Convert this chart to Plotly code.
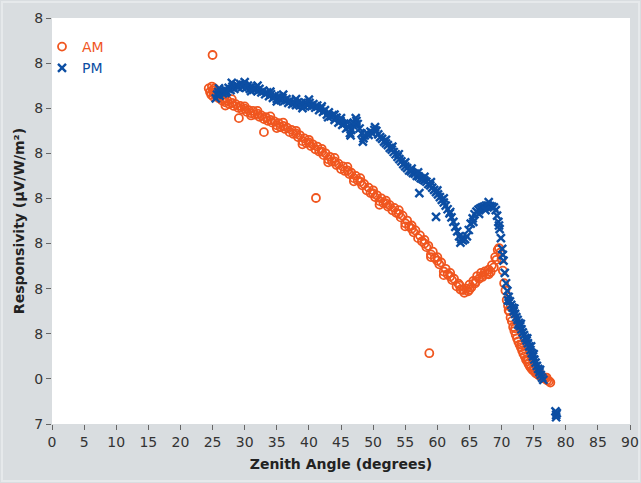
import plotly.graph_objects as go

# Y axis tick positions (bottom -> top) and their labels as printed
y_tickvals = [0, 1, 2, 3, 4, 5, 6, 7, 8, 9]
y_ticktext = ["7", "0", "8", "8", "8", "8", "8", "8", "8", "8"]
x_tickvals = list(range(0, 95, 5))

# AM measurements (zenith angle, responsivity in axis units)
am_points = [
    (24.4,7.44),(24.6,7.36),(24.8,7.30),(24.9,7.48),(25.0,7.40),(25.1,7.26),(25.2,7.34),(25.3,7.44),
    (25.4,7.30),(25.6,7.37),(25.8,7.28),(26.0,7.22),(26.2,7.28),(26.5,7.17),(26.8,7.20),(27.0,7.13),
    (27.3,7.17),(27.6,7.09),(28.0,7.12),(28.3,7.05),(28.6,7.09),(29.0,7.01),(29.3,7.05),(29.6,6.97),
    (30.0,6.99),(30.3,6.92),(30.6,6.96),(31.0,6.89),(31.3,6.94),(31.6,6.86),(32.0,6.88),(32.3,6.81),
    (32.6,6.84),(33.0,6.76),(33.3,6.80),(33.6,6.72),(34.0,6.74),(34.3,6.68),(34.6,6.71),(35.0,6.62),
    (35.3,6.67),(35.6,6.58),(36.0,6.61),(36.3,6.54),(36.6,6.57),(37.0,6.47),(37.3,6.52),(37.6,6.43),
    (38.0,6.44),(38.3,6.36),(38.6,6.40),(39.0,6.27),(39.3,6.33),(39.6,6.23),(40.0,6.24),(40.3,6.16),
    (40.6,6.20),(41.0,6.09),(41.3,6.15),(41.6,6.04),(42.0,6.04),(42.3,5.96),(42.6,6.00),(43.0,5.87),
    (43.3,5.92),(43.6,5.82),(44.0,5.82),(44.3,5.74),(44.6,5.77),(45.0,5.65),(45.3,5.71),(45.6,5.61),
    (46.0,5.62),(46.3,5.54),(46.6,5.57),(47.0,5.45),(47.3,5.50),(47.6,5.40),(48.0,5.37),(48.3,5.29),
    (48.6,5.32),(49.0,5.18),(49.3,5.24),(49.6,5.12),(50.0,5.11),(50.3,5.03),(50.6,5.07),(51.0,4.94),
    (51.3,5.00),(51.6,4.90),(52.0,4.89),(52.3,4.82),(52.6,4.85),(53.0,4.74),(53.3,4.79),(53.6,4.68),
    (54.0,4.66),(54.3,4.58),(54.6,4.62),(55.0,4.45),(55.3,4.51),(55.6,4.38),(56.0,4.33),(56.3,4.25),
    (56.6,4.29),(57.0,4.12),(57.3,4.18),(57.6,4.05),(58.0,4.00),(58.3,3.92),(58.6,3.95),(59.0,3.76),
    (59.3,3.82),(59.6,3.68),(60.0,3.62),(60.3,3.54),(60.6,3.58),(61.0,3.38),(61.3,3.44),(61.6,3.32),
    (62.0,3.27),(62.3,3.19),(62.6,3.22),(63.0,3.05),(63.3,3.11),(63.6,2.98),(64.0,2.97),(64.2,2.91),
    (64.5,3.00),(64.8,2.94),(65.0,3.09),(65.3,3.03),(65.6,3.17),(65.9,3.12),(66.2,3.28),(66.5,3.22),
    (66.8,3.35),(67.1,3.30),(67.4,3.38),(67.7,3.33),(68.0,3.42),(68.3,3.37),(68.5,3.52),(68.8,3.47),
    (69.0,3.70),(69.2,3.64),(69.4,3.86),(69.6,3.90),(69.8,3.80),(70.0,3.66),(70.2,3.40),(70.4,3.12),
    (70.6,2.96),(70.8,2.75),(71.0,2.62),(71.2,2.50),(71.4,2.36),(71.6,2.28),(71.8,2.15),(72.0,2.06),
    (72.2,1.98),(72.4,1.90),(72.6,1.83),(72.8,1.76),(73.0,1.70),(73.2,1.63),(73.4,1.56),(73.6,1.50),
    (73.8,1.43),(74.0,1.39),(74.2,1.33),(74.4,1.28),(74.6,1.24),(74.8,1.20),(75.0,1.18),(75.3,1.13),
    (75.6,1.10),(75.9,1.07),(76.2,1.05),(76.5,1.02),(76.8,1.00),(77.1,0.97),(77.4,0.95),(77.6,0.92),
    (71.1,2.52),(72.1,2.12),(73.1,1.76),(74.1,1.44),(75.1,1.24),(76.1,1.10),(77.0,1.03),
    (26.0,7.34),(28.0,7.20),(30.0,7.04),(32.0,6.94),(34.0,6.82),(36.0,6.68),(38.0,6.50),(40.0,6.30),
    (42.0,6.10),(44.0,5.90),(46.0,5.70),(48.0,5.45),(50.0,5.18),(52.0,4.95),(54.0,4.74),(56.0,4.40),
    (58.0,4.08),(60.0,3.70),(62.0,3.35),(63.5,3.07),(65.0,2.98),(67.0,3.26),(68.0,3.32),(27.0,7.06),
    (31.0,6.84),(35.0,6.56),(39.0,6.20),(43.0,5.80),(47.0,5.38),(51.0,4.86),(55.0,4.38),(59.0,3.70),
    (61.0,3.30),(66.0,3.16),
    (25.0,8.18),(29.1,6.78),(33.0,6.47),(41.1,5.01),(58.75,1.57),
]

# PM measurements (zenith angle, responsivity in axis units)
pm_points = [
    (25.5,7.22),(25.7,7.30),(25.9,7.36),(26.1,7.28),(26.3,7.38),(26.6,7.33),(26.9,7.42),(27.2,7.37),
    (27.5,7.45),(27.8,7.40),(28.1,7.48),(28.4,7.43),(28.7,7.52),(29.0,7.46),(29.3,7.54),(29.6,7.47),
    (29.9,7.51),(30.2,7.45),(30.5,7.50),(30.8,7.43),(31.1,7.48),(31.4,7.41),(31.7,7.45),(32.0,7.38),
    (32.3,7.43),(32.6,7.35),(32.9,7.39),(33.2,7.31),(33.5,7.35),(33.8,7.27),(34.1,7.31),(34.4,7.23),
    (34.7,7.28),(35.0,7.21),(35.3,7.26),(35.6,7.18),(35.9,7.23),(36.2,7.16),(36.5,7.20),(36.8,7.12),
    (37.1,7.17),(37.4,7.09),(37.7,7.14),(38.0,7.07),(38.3,7.13),(38.6,7.06),(38.9,7.12),(39.2,7.05),
    (39.5,7.12),(39.8,7.06),(40.1,7.12),(40.4,7.04),(40.7,7.09),(41.0,7.01),(41.3,7.06),(41.6,6.96),
    (41.9,7.00),(42.2,6.92),(42.5,6.96),(42.8,6.86),(43.1,6.91),(43.4,6.82),(43.7,6.85),(44.0,6.74),
    (44.3,6.79),(44.6,6.68),(44.9,6.72),(45.2,6.63),(45.5,6.66),(45.8,6.55),(46.1,6.58),(46.4,6.45),
    (46.6,6.52),(46.9,6.62),(47.1,6.66),(47.4,6.72),(47.6,6.65),(47.9,6.55),(48.2,6.44),(48.5,6.33),
    (48.7,6.40),(49.0,6.45),(49.3,6.41),(49.6,6.48),(49.9,6.44),(50.2,6.52),(50.5,6.50),(50.8,6.42),
    (51.1,6.36),(51.4,6.32),(51.7,6.26),(52.0,6.22),(52.3,6.18),(52.6,6.12),(52.9,6.08),(53.2,6.03),
    (53.5,5.98),(53.8,5.92),(54.1,5.87),(54.4,5.82),(54.7,5.76),(55.0,5.71),(55.3,5.67),(55.6,5.62),
    (55.9,5.60),(56.2,5.56),(56.5,5.55),(56.8,5.50),(57.1,5.49),(57.4,5.45),(57.7,5.43),(58.0,5.40),
    (58.3,5.37),(58.6,5.32),(58.9,5.29),(59.2,5.24),(59.5,5.19),(59.8,5.14),(60.1,5.09),(60.4,5.03),
    (60.7,4.97),(61.0,4.91),(61.3,4.84),(61.6,4.76),(61.9,4.67),(62.2,4.58),(62.5,4.48),(62.8,4.37),
    (63.1,4.27),(63.4,4.16),(63.7,4.10),(64.0,4.07),(64.3,4.10),(64.6,4.16),(64.9,4.30),(65.2,4.44),
    (65.5,4.56),(65.8,4.65),(66.1,4.71),(66.4,4.75),(66.7,4.78),(67.0,4.80),(67.3,4.82),(67.6,4.84),
    (67.9,4.84),(68.2,4.83),(68.5,4.82),(68.8,4.80),(69.1,4.74),(69.3,4.62),(69.5,4.48),(69.7,4.32),
    (69.9,4.12),(70.1,3.88),(70.3,3.62),(70.5,3.35),(70.7,3.12),(70.9,2.95),(71.1,2.82),(71.3,2.72),
    (71.5,2.64),(71.7,2.58),(71.9,2.50),(72.1,2.44),(72.3,2.37),(72.5,2.31),(72.7,2.24),(72.9,2.17),
    (73.1,2.10),(73.3,2.03),(73.5,1.97),(73.7,1.91),(73.9,1.85),(74.1,1.79),(74.3,1.72),(74.5,1.64),
    (74.7,1.57),(74.9,1.50),(75.1,1.43),(75.3,1.36),(75.5,1.29),(75.7,1.22),(75.9,1.15),(76.1,1.09),
    (76.3,1.03),(76.5,0.98),
    (26.0,7.44),(28.0,7.56),(30.0,7.58),(32.0,7.50),(34.0,7.37),(36.0,7.30),(38.0,7.20),(40.0,7.19),
    (42.0,7.04),(44.0,6.86),(46.0,6.68),(47.3,6.78),(48.4,6.26),(50.3,6.58),(52.0,6.30),(54.0,5.98),
    (56.0,5.66),(58.0,5.48),(60.0,5.18),(62.0,4.70),(63.6,4.02),(65.6,4.48),(68.0,4.92),(69.6,4.40),
    (71.0,2.74),(72.0,2.56),(73.0,2.22),(74.0,1.90),(75.0,1.55),(76.0,1.20),(46.5,6.40),(55.0,5.80),
    (61.0,5.00),(27.0,7.34),(31.0,7.38),(35.0,7.15),(39.0,7.00),(43.0,6.80),(45.0,6.78),(53.0,6.15),
    (57.0,5.58),(59.0,5.36),(66.5,4.66),(67.5,4.74),(70.2,3.75),(72.6,2.20),(74.6,1.72),
    (57.2,5.12),(59.8,4.59),(78.4,0.28),(78.5,0.20),(78.6,0.24),(78.5,0.15),
]

AM_COLOR = "#f0561f"
PM_COLOR = "#0c4ea3"
FONT = "DejaVu Sans"

fig = go.Figure()
fig.add_trace(go.Scatter(
    x=[p[0] for p in am_points], y=[p[1] for p in am_points],
    mode="markers", name=f"<span style='color:{AM_COLOR}'>AM</span>",
    marker=dict(symbol="circle-open", size=8, color=AM_COLOR, line=dict(width=1.8, color=AM_COLOR)),
))
fig.add_trace(go.Scatter(
    x=[p[0] for p in pm_points], y=[p[1] for p in pm_points],
    mode="markers", name=f"<span style='color:{PM_COLOR}'>PM</span>",
    marker=dict(symbol="x-thin", size=8, color=PM_COLOR, line=dict(width=2.4, color=PM_COLOR)),
))

# light outer frame of the gray panel (paper coords relative to the plot area)
W, H, L, R, T, B = 641, 483, 52, 11, 18, 59
pw, ph = W - L - R, H - T - B
fx = lambda px: (px - L) / pw
fy = lambda py: (H - B - py) / ph

fig.update_layout(
    width=W, height=H,
    margin=dict(l=L, r=R, t=T, b=B),
    paper_bgcolor="#d9dde0",
    plot_bgcolor="#ffffff",
    font=dict(family=FONT, size=13, color="#333333"),
    showlegend=True,
    legend=dict(x=fx(42), y=fy(31), xanchor="left", yanchor="top", bgcolor="rgba(0,0,0,0)",
                font=dict(size=14, family=FONT), tracegroupgap=0, itemwidth=30),
    shapes=[dict(type="rect", xref="paper", yref="paper", x0=fx(2), x1=fx(W - 2), y0=fy(H - 2), y1=fy(2),
                 line=dict(color="#e6e9eb", width=2), fillcolor="rgba(0,0,0,0)", layer="below")],
    xaxis=dict(range=[0, 90], tickvals=x_tickvals, showgrid=False, zeroline=False, showline=False,
               automargin=False,
               ticks="outside", ticklen=5, tickcolor="#666666", tickwidth=1,
               tickfont=dict(size=14, color="#333333"),
               title=dict(text="<b>Zenith Angle (degrees)</b>", font=dict(size=14, color="#222222"), standoff=10)),
    yaxis=dict(range=[0, 9], tickvals=y_tickvals, ticktext=y_ticktext, showgrid=False, zeroline=False,
               automargin=False,
               showline=False, ticks="outside", ticklen=5, tickcolor="#666666", tickwidth=1,
               tickfont=dict(size=14, color="#333333"),
               title=dict(text="<b>Responsivity (µV/W/m²)</b>", font=dict(size=14, color="#222222"), standoff=6)),
)

fig.write_html("out.html")
